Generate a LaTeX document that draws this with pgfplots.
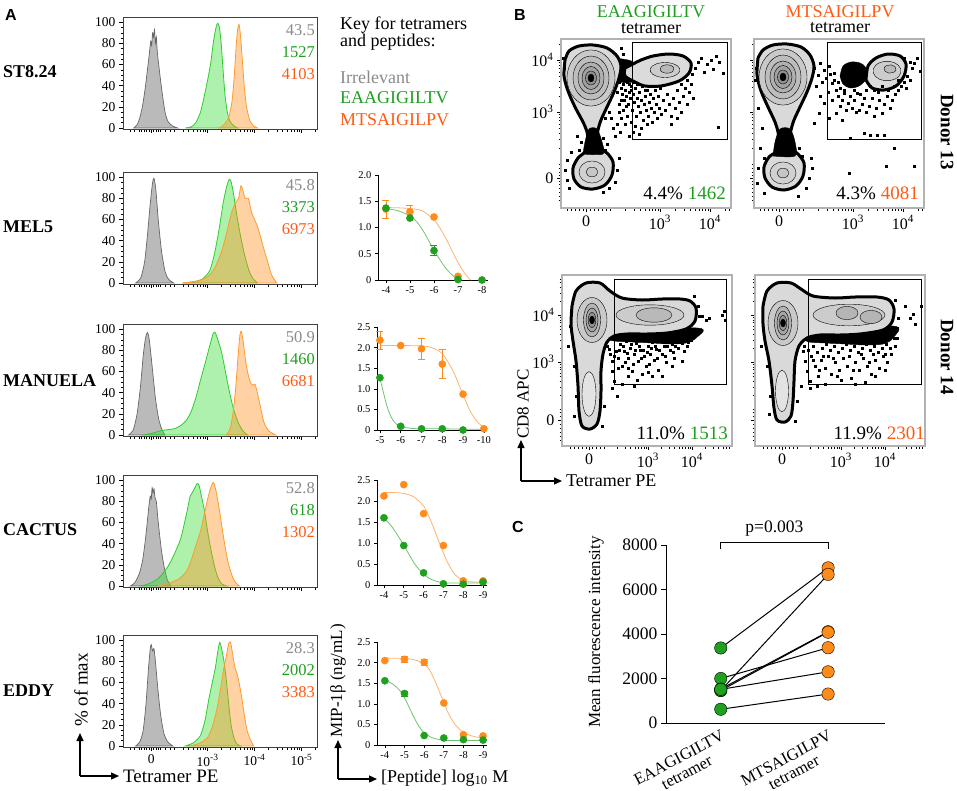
\documentclass[border=0pt]{standalone}
\usepackage{pgfplots}
\pgfplotsset{compat=1.18}
\usepackage{fontspec}
\setmainfont{Liberation Serif}
\setsansfont{Liberation Sans}
\usetikzlibrary{arrows.meta}
\newcommand\fs[1]{\fontsize{#1}{#1}\selectfont}

\definecolor{gfill}{HTML}{33DD33}
\definecolor{gline}{HTML}{2ECC2E}
\definecolor{ofill}{HTML}{FF8C1A}
\definecolor{oline}{HTML}{FF9A2E}
\definecolor{htext}{HTML}{8A8A8A}
\definecolor{gtext}{HTML}{1E9E1E}
\definecolor{otext}{HTML}{FF5A14}
\definecolor{gdot}{HTML}{1FA01F}
\definecolor{odot}{HTML}{FF8C1A}
\definecolor{gcurve}{HTML}{6FC36F}
\definecolor{ocurve}{HTML}{FFB36B}

\pgfplotsset{
  hist/.style={scale only axis, width=194pt, height=112pt,
    xmin=1.2, xmax=5.33, ymin=-1, ymax=105,
    axis line style={line width=0.8pt, black!75},
    tick align=outside, major tick length=4pt, minor tick length=2.5pt,
    tick style={black, line width=0.6pt},
    xtick pos=left, ytick pos=left,
    ytick={0,20,...,100}, minor y tick num=3,
    xtick={1.8,3,4,5}, xticklabels={},
    minor xtick={1.35,1.45,1.55,1.6,1.65,1.7,1.75,1.85,1.9,1.95,2.0,2.1,2.2,2.3,2.48,2.6,2.7,2.78,2.85,2.9,2.95,3.3,3.48,3.6,3.7,3.78,3.85,3.9,3.95,4.3,4.48,4.6,4.7,4.78,4.85,4.9,4.95,5.3},
    tick label style={font=\fs{13.5}},
    /pgf/number format/assume math mode=true, clip=false},
  gh/.style={draw=black!60, fill=black!45, fill opacity=0.6, line width=0.7pt, smooth, tension=0.4},
  gr/.style={draw=gline, fill=gfill, fill opacity=0.4, line width=0.8pt, smooth, tension=0.4},
  or/.style={draw=oline, fill=ofill, fill opacity=0.4, line width=0.8pt, smooth, tension=0.4},
  dose/.style={scale only axis, width=110pt, axis lines=left,
    axis line style={-, line width=0.8pt}, tick align=outside,
    major tick length=3pt, tick style={black, line width=0.6pt},
    ymin=0, clip=false, tick label style={font=\fs{10.5}}},
  ocv/.style={ocurve, line width=0.8pt, smooth, tension=0.5, no markers},
  gcv/.style={gcurve, line width=0.8pt, smooth, tension=0.5, no markers},
  odt/.style={odot, only marks, mark=*, mark size=3.6pt, mark options={fill=odot, draw=odot}},
  gdt/.style={gdot, only marks, mark=*, mark size=3.6pt, mark options={fill=gdot, draw=gdot}},
  ebar/.style={error bars/y dir=both, error bars/y explicit,
    error bars/error bar style={line width=0.8pt},
    error bars/error mark options={rotate=90, mark size=3.5pt, line width=0.8pt}},
  flow/.style={scale only axis, width=170pt, xmin=0, xmax=170, ymin=0,
    axis line style={black!30, line width=1.2pt},
    tick align=outside, major tick length=4pt, minor tick length=2.5pt,
    tick style={black, line width=0.6pt},
    xtick pos=left, ytick pos=left,
    tick label style={font=\fs{16}},
    xticklabels={0,10\textsuperscript{3},10\textsuperscript{4}}, yticklabels={}},
  f13/.style={height=169pt, ymax=169, xtick={25,99,149}, ytick={30,96,148},
    minor xtick={6,10,14,18,22,29,33,37,41,45,49,64,73,79,84,88,91,94,97,114,123,129,134,138,141,144,147,164,168},
    minor ytick={8,12,16,20,24,27,33,36,40,44,60,69,75,80,84,88,91,94,112,121,127,132,136,140,143,146,164}},
  f14/.style={height=171pt, ymax=171, xtick={27,86,130}, ytick={26,84,131},
    minor xtick={8,12,16,20,24,30,34,38,42,55,63,68,73,76,79,82,84,99,107,112,117,120,123,126,128,143,151,156,161,164,167},
    minor ytick={6,10,14,18,22,30,34,37,51,59,65,70,73,77,79,82,98,106,112,117,120,124,126,129,145,153,159,164,167}},
  dots/.style={only marks, mark=square*, mark size=1.05pt, black},
  blob/.style={draw=black, line width=3pt, smooth, tension=0.5},
  ring/.style={only marks, mark=*},
  wring/.style={only marks, mark=*, mark options={draw=white, line width=0.7pt}}
}

\begin{document}
\begin{tikzpicture}
\useasboundingbox (0pt,0pt) rectangle (957pt,-790pt);

% ---------------- A: histograms ----------------
\begin{axis}[hist, at={(123pt,-17pt)}, anchor=north west]
\addplot[gh] coordinates {(1.43,0)(1.50,3)(1.56,10)(1.62,22)(1.68,40)(1.72,55)(1.76,70)(1.79,82)(1.81,78)(1.83,90)(1.85,86)(1.87,93)(1.89,80)(1.91,86)(1.93,72)(1.96,60)(2.00,45)(2.05,28)(2.10,14)(2.16,6)(2.25,2)(2.36,0)} \closedcycle;
\addplot[gr] coordinates {(2.53,0)(2.65,1)(2.75,5)(2.85,15)(2.93,30)(3.00,45)(3.07,62)(3.12,80)(3.17,93)(3.21,99)(3.25,96)(3.29,80)(3.33,55)(3.37,32)(3.42,15)(3.48,6)(3.56,2)(3.64,0)} \closedcycle;
\addplot[or] coordinates {(3.25,0)(3.35,3)(3.45,10)(3.52,25)(3.57,50)(3.61,78)(3.64,93)(3.67,98)(3.70,88)(3.74,65)(3.78,40)(3.83,20)(3.90,7)(3.98,2)(4.06,0)} \closedcycle;
\end{axis}

\begin{axis}[hist, at={(123pt,-172pt)}, anchor=north west]
\addplot[gh] coordinates {(1.47,0)(1.58,5)(1.66,20)(1.72,45)(1.78,75)(1.83,95)(1.86,99)(1.90,88)(1.95,60)(2.02,30)(2.10,10)(2.18,3)(2.28,0)} \closedcycle;
\addplot[gr] coordinates {(2.47,0)(2.7,1)(2.9,4)(3.05,12)(3.15,28)(3.25,52)(3.33,75)(3.40,90)(3.46,98)(3.50,96)(3.55,85)(3.62,65)(3.70,45)(3.78,28)(3.88,12)(3.97,4)(4.06,0)} \closedcycle;
\addplot[or] coordinates {(2.47,0)(2.8,2)(3.0,6)(3.15,14)(3.30,30)(3.42,50)(3.52,68)(3.60,76)(3.66,80)(3.71,92)(3.75,88)(3.80,80)(3.87,80)(3.93,68)(3.98,62)(4.05,55)(4.12,45)(4.20,32)(4.28,20)(4.36,8)(4.47,0)} \closedcycle;
\end{axis}

\begin{axis}[hist, at={(123pt,-324pt)}, anchor=north west]
\addplot[gh] coordinates {(1.32,0)(1.42,5)(1.50,20)(1.57,45)(1.63,75)(1.68,92)(1.72,97)(1.76,90)(1.82,65)(1.89,35)(1.96,15)(2.03,5)(2.09,0)} \closedcycle;
\addplot[gr] coordinates {(1.65,0)(1.85,2)(2.0,4)(2.15,5)(2.3,6)(2.43,9)(2.55,14)(2.65,22)(2.75,35)(2.85,52)(2.95,68)(3.05,85)(3.12,96)(3.16,97)(3.22,90)(3.30,78)(3.38,60)(3.46,42)(3.55,25)(3.65,12)(3.75,4)(3.85,0)} \closedcycle;
\addplot[or] coordinates {(3.40,0)(3.48,6)(3.54,20)(3.60,45)(3.65,75)(3.69,95)(3.72,98)(3.76,88)(3.81,70)(3.86,58)(3.91,50)(3.96,47)(4.01,48)(4.06,40)(4.12,28)(4.20,12)(4.30,4)(4.45,0)} \closedcycle;
\end{axis}

\begin{axis}[hist, at={(123pt,-475pt)}, anchor=north west]
\addplot[gh] coordinates {(1.36,0)(1.45,3)(1.55,12)(1.62,25)(1.68,45)(1.72,62)(1.75,75)(1.78,85)(1.80,82)(1.82,93)(1.84,88)(1.86,92)(1.88,84)(1.91,80)(1.94,65)(1.98,48)(2.03,30)(2.09,15)(2.15,5)(2.22,0)} \closedcycle;
\addplot[gr] coordinates {(1.60,0)(1.80,3)(1.95,7)(2.05,12)(2.15,18)(2.25,26)(2.35,36)(2.43,45)(2.50,58)(2.57,72)(2.63,85)(2.67,88)(2.72,92)(2.78,97)(2.82,95)(2.87,85)(2.93,72)(3.00,52)(3.07,35)(3.14,20)(3.22,8)(3.30,2)(3.40,0)} \closedcycle;
\addplot[or] coordinates {(1.95,0)(2.2,3)(2.4,7)(2.55,14)(2.65,24)(2.75,38)(2.85,52)(2.93,68)(3.00,82)(3.06,92)(3.12,98)(3.17,92)(3.23,78)(3.30,58)(3.37,38)(3.44,22)(3.52,10)(3.60,3)(3.68,0)} \closedcycle;
\end{axis}

\begin{axis}[hist, at={(123pt,-635pt)}, anchor=north west,
  xticklabels={0,10\textsuperscript{-3},10\textsuperscript{-4},10\textsuperscript{-5}}]
\addplot[gh] coordinates {(1.47,0)(1.56,4)(1.63,15)(1.69,40)(1.74,72)(1.78,92)(1.80,96)(1.83,90)(1.86,92)(1.89,80)(1.94,55)(2.00,30)(2.07,12)(2.15,4)(2.26,0)} \closedcycle;
\addplot[gr] coordinates {(2.53,0)(2.70,3)(2.85,10)(2.95,25)(3.03,45)(3.10,60)(3.17,75)(3.22,90)(3.26,98)(3.30,92)(3.35,80)(3.40,62)(3.45,40)(3.50,20)(3.56,8)(3.62,2)(3.70,0)} \closedcycle;
\addplot[or] coordinates {(2.64,0)(2.85,3)(3.00,8)(3.10,18)(3.20,35)(3.28,55)(3.34,72)(3.40,85)(3.45,97)(3.49,98)(3.53,88)(3.58,75)(3.63,68)(3.68,58)(3.73,45)(3.78,30)(3.84,15)(3.91,6)(3.98,0)} \closedcycle;
\end{axis}

% ---------------- A: dose response ----------------
\begin{axis}[dose, at={(378pt,-280pt)}, anchor=south west, height=105pt,
  xmin=3.67, xmax=8.25, ymax=2, xtick={4,5,6,7,8}, xticklabels={-4,-5,-6,-7,-8},
  ytick={0,0.5,1,1.5,2}, yticklabels={0,0.5,1.0,1.5,2.0}]
\addplot[ocv] coordinates {(4,1.38)(4.5,1.375)(5,1.36)(5.5,1.32)(6,1.15)(6.3,0.95)(6.6,0.7)(6.9,0.42)(7.2,0.18)(7.45,0.03)(7.55,0)};
\addplot[gcv] coordinates {(4,1.36)(4.5,1.32)(5,1.22)(5.3,1.1)(5.6,0.9)(5.9,0.65)(6.2,0.42)(6.5,0.22)(6.8,0.08)(7.1,0.0)};
\addplot[odt, ebar] coordinates {(4,1.35) +- (0,0.17) (5,1.30) +- (0,0.13)};
\addplot[odt] coordinates {(6,1.20)(7,0.07)};
\addplot[gdt, ebar] coordinates {(6,0.56) +- (0,0.09)};
\addplot[gdt] coordinates {(4,1.37)(5,1.18)(7,0.01)(8,0)};
\end{axis}

\begin{axis}[dose, at={(377pt,-430pt)}, anchor=south west, height=103pt,
  xmin=4.86, xmax=10.15, ymax=2.5, xtick={5,6,7,8,9,10}, xticklabels={-5,-6,-7,-8,-9,-10},
  ytick={0,0.5,1,1.5,2,2.5}, yticklabels={0,0.5,1.0,1.5,2.0,2.5}]
\addplot[ocv] coordinates {(5,2.05)(6,2.05)(7,2.04)(7.5,2.0)(8,1.85)(8.5,1.45)(8.8,1.1)(9,0.86)(9.3,0.5)(9.6,0.25)(9.9,0.1)(10.15,0.03)};
\addplot[gcv] coordinates {(5,1.25)(5.15,0.95)(5.3,0.65)(5.45,0.42)(5.6,0.26)(5.8,0.14)(6,0.08)(6.5,0.04)(7,0.03)(8,0.03)(9,0.02)(10.1,0.02)};
\addplot[odt, ebar] coordinates {(5,2.18) +- (0,0.22) (7,1.97) +- (0,0.25) (8,1.60) +- (0,0.35)};
\addplot[odt] coordinates {(6,2.05)(9,0.87)(10,0.03)};
\addplot[gdt] coordinates {(5,1.27)(6,0.09)(7,0.03)(8,0.03)(9,0.0)};
\end{axis}

\begin{axis}[dose, at={(377pt,-585pt)}, anchor=south west, height=105pt,
  xmin=3.65, xmax=9.2, ymax=2.5, xtick={4,5,6,7,8,9}, xticklabels={-4,-5,-6,-7,-8,-9},
  ytick={0,0.5,1,1.5,2,2.5}, yticklabels={0,0.5,1.0,1.5,2.0,2.5}]
\addplot[ocv] coordinates {(4,2.2)(4.5,2.2)(5,2.18)(5.5,2.1)(6,1.88)(6.3,1.6)(6.6,1.25)(6.9,0.88)(7.2,0.55)(7.5,0.3)(7.8,0.16)(8.2,0.09)(8.6,0.07)(9,0.06)};
\addplot[gcv] coordinates {(4,1.58)(4.3,1.45)(4.6,1.25)(5,0.95)(5.3,0.7)(5.6,0.47)(6,0.26)(6.4,0.13)(6.8,0.07)(7.2,0.05)(8,0.05)(9,0.05)};
\addplot[odt] coordinates {(4,2.12)(5,2.39)(6,1.70)(7,0.94)(8,0.10)(9,0.10)};
\addplot[gdt] coordinates {(4,1.60)(5,0.94)(6,0.29)(7,0.03)(8,0.02)(9,0.07)};
\end{axis}

\begin{axis}[dose, at={(377pt,-745pt)}, anchor=south west, height=103pt,
  xmin=3.6, xmax=9.2, ymax=2.5, xtick={4,5,6,7,8,9}, xticklabels={-4,-5,-6,-7,-8,-9},
  ytick={0,0.5,1,1.5,2,2.5}, yticklabels={0,0.5,1.0,1.5,2.0,2.5}]
\addplot[ocv] coordinates {(4,2.11)(5,2.1)(5.5,2.07)(6,1.97)(6.3,1.8)(6.6,1.5)(6.9,1.15)(7.2,0.8)(7.5,0.55)(7.8,0.38)(8.2,0.26)(8.6,0.2)(9,0.17)};
\addplot[gcv] coordinates {(4,1.57)(4.4,1.48)(4.8,1.3)(5.1,1.05)(5.4,0.75)(5.7,0.48)(6,0.3)(6.4,0.18)(6.8,0.13)(7.3,0.11)(9,0.11)};
\addplot[odt, ebar] coordinates {(5,2.08) +- (0,0.07) (6,2.01) +- (0,0.07)};
\addplot[odt] coordinates {(4,2.05)(7,1.02)(8,0.25)(9,0.22)};
\addplot[gdt, ebar] coordinates {(5,1.25) +- (0,0.06)};
\addplot[gdt] coordinates {(4,1.56)(6,0.23)(7,0.17)(8,0.13)(9,0.12)};
\end{axis}

% ---------------- B: flow plots, donor 13 ----------------
\begin{axis}[flow, f13, at={(561pt,-208pt)}, anchor=south west,
  yticklabels={0,10\textsuperscript{3},10\textsuperscript{4}}]
\addplot[dots] coordinates {(58,126)(60,120)(61,114)(62,124)(63,108)(64,118)(65,112)(66,126)(67,104)(68,116)(69,110)(70,122)(71,98)(72,114)(73,106)(74,120)(75,92)(76,110)(77,102)(78,116)(79,96)(80,108)(81,122)(82,88)(83,104)(84,112)(85,98)(86,118)(87,92)(88,106)(89,114)(90,100)(91,86)(92,110)(93,96)(94,118)(95,104)(96,90)(97,112)(98,100)(99,120)(100,94)(102,108)(104,98)(106,114)(108,104)(110,92)(112,110)(114,100)(116,118)(118,106)(120,96)(122,112)(124,120)(126,104)(128,116)(130,124)(132,110)(62,98)(66,92)(70,86)(74,82)(80,80)(86,84)(58,104)(60,90)(64,84)(68,72)(72,76)(78,74)(56,84)(59,76)(110,84)(116,90)(120,124)(126,128)(131,134)(134,140)(137,146)(140,150)(143,136)(146,144)(150,148)(152,139)(155,152)(158,146)(162,135)(157,81)(48,96)(50,90)(52,80)(54,72)(44,90)(42,70)(46,64)(20,66)(16,72)(18,58)(44,58)(42,16)(48,20)(54,26)(56,38)(58,50)(8,20)(6,28)(4,38)(6,48)(10,56)(3,140)(2,150)(62,154)(63,146)(60,160)(61,128)(64,130)(68,124)(72,126)(76,124)(70,118)(65,102)(60,108)(84,118)(90,122)(56,116)(58,96)};
\addplot[draw=black, fill=black, smooth] coordinates {(50,150)(72,146)(74,127)(52,128)(50,150)};
\addplot[blob, fill=gray!28] coordinates {(64,140)(72,144)(80,148)(92,152)(108,154)(122,152)(130,145)(128,135)(118,127)(100,122)(84,122)(74,126)(64,132)(64,140)};
\addplot[ring, mark size=15pt, mark options={fill=gray!40, draw=none, yscale=0.5, rotate=12}] coordinates {(104,138)};
\addplot[ring, mark size=7pt, mark options={fill=gray!55, draw=none, yscale=0.6, rotate=12}] coordinates {(106,139)};
\addplot[blob, fill=gray!30] coordinates {(4,148)(8,157)(18,162)(32,163)(46,160)(56,152)(60,142)(58,130)(53,116)(46,101)(40,88)(37,78)(36,68)(38,60)(46,55)(52,46)(51,33)(44,23)(32,19)(20,21)(13,29)(12,40)(17,50)(25,57)(27,66)(26,76)(22,86)(14,101)(7,117)(3,132)(4,148)};
\addplot[draw=black, fill=black, smooth, tension=0.5] coordinates {(22,54)(42,54)(41,66)(36,79)(28,79)(24,66)(22,54)};
\addplot[ring, mark size=24pt, mark options={fill=gray!42, draw=none, yscale=1.17}] coordinates {(30,130)};
\addplot[ring, mark size=18pt, mark options={fill=gray!52, draw=none, yscale=1.22}] coordinates {(30,130)};
\addplot[wring, mark size=13pt, mark options={fill=gray!62, yscale=1.23}] coordinates {(30,130)};
\addplot[wring, mark size=9pt, mark options={fill=gray!74, yscale=1.28}] coordinates {(30,130)};
\addplot[wring, mark size=5.5pt, mark options={fill=gray!86, yscale=1.27}] coordinates {(30,130)};
\addplot[ring, mark size=3pt, mark options={fill=black, draw=none, yscale=1.33}] coordinates {(30,130)};
\addplot[ring, mark size=13pt, mark options={fill=gray!36, draw=none, yscale=0.85}] coordinates {(31,36)};
\addplot[ring, mark size=6pt, mark options={fill=gray!45, draw=none, yscale=0.8}] coordinates {(31,36)};
\addplot[black, line width=0.8pt] coordinates {(71,69)(166,69)(166,166)(71,166)(71,69)};
\end{axis}

\begin{axis}[flow, f13, at={(754pt,-208pt)}, anchor=south west]
\addplot[dots] coordinates {(60,140)(64,133)(66,145)(70,138)(72,130)(75,142)(78,125)(80,135)(82,118)(84,112)(88,108)(90,115)(94,105)(96,112)(98,100)(100,108)(103,115)(105,98)(108,104)(110,110)(112,96)(115,102)(118,110)(120,92)(122,100)(125,108)(128,95)(130,104)(133,112)(136,100)(138,108)(141,114)(144,118)(147,122)(150,126)(153,132)(156,128)(158,140)(160,145)(163,150)(166,137)(75,90)(82,95)(88,88)(110,75)(116,73)(123,73)(130,73)(140,60)(96,70)(60,85)(65,95)(70,105)(55,30)(57,50)(95,35)(132,42)(160,42)(45,60)(48,52)(2,140)(1,128)(4,100)(8,80)(6,60)(10,50)(4,40)(3,25)(10,15)(52,20)(58,40)(44,12)(86,120)(90,118)(92,124)(100,118)(106,114)(112,118)(116,122)(84,126)(80,128)(76,134)(68,126)(62,122)(66,112)(74,116)(78,108)(86,102)(92,98)(102,96)(120,118)(124,116)(128,122)(134,118)(140,122)(144,128)(152,120)(156,146)(150,150)};
\addplot[draw=black, fill=black, smooth, tension=0.5] coordinates {(86,132)(89,142)(97,146)(106,145)(112,140)(112,129)(105,122)(96,120)(89,124)(86,132)};
\addplot[blob, fill=gray!28] coordinates {(112,128)(114,142)(122,150)(134,154)(146,152)(152,144)(150,132)(142,122)(130,118)(118,120)(112,128)};
\addplot[ring, mark size=14pt, mark options={fill=gray!40, draw=none, yscale=0.7, rotate=35}] coordinates {(133,137)};
\addplot[ring, mark size=6pt, mark options={fill=gray!55, draw=none, yscale=0.7, rotate=35}] coordinates {(136,139)};
\addplot[blob, fill=gray!30] coordinates {(4,150)(9,158)(19,163)(33,164)(47,161)(56,153)(60,142)(58,130)(53,116)(46,101)(40,88)(37,78)(35,68)(36,60)(44,54)(50,45)(49,32)(42,22)(30,18)(18,21)(11,30)(10,41)(15,51)(23,57)(25,66)(24,76)(21,86)(14,101)(7,117)(3,133)(4,150)};
\addplot[draw=black, fill=black, smooth, tension=0.5] coordinates {(19,52)(41,52)(41,66)(36,79)(26,79)(21,66)(19,52)};
\addplot[ring, mark size=24pt, mark options={fill=gray!42, draw=none, yscale=1.17}] coordinates {(29,131)};
\addplot[ring, mark size=18pt, mark options={fill=gray!52, draw=none, yscale=1.22}] coordinates {(29,131)};
\addplot[wring, mark size=13pt, mark options={fill=gray!62, yscale=1.23}] coordinates {(29,131)};
\addplot[wring, mark size=9pt, mark options={fill=gray!74, yscale=1.28}] coordinates {(29,131)};
\addplot[wring, mark size=5.5pt, mark options={fill=gray!86, yscale=1.27}] coordinates {(29,131)};
\addplot[ring, mark size=3pt, mark options={fill=black, draw=none, yscale=1.33}] coordinates {(29,131)};
\addplot[ring, mark size=13pt, mark options={fill=gray!36, draw=none, yscale=0.85}] coordinates {(29,35)};
\addplot[ring, mark size=6pt, mark options={fill=gray!45, draw=none, yscale=0.8}] coordinates {(29,35)};
\addplot[black, line width=0.8pt] coordinates {(73,69)(167,69)(167,166)(73,166)(73,69)};
\end{axis}

% ---------------- B: flow plots, donor 14 ----------------
\begin{axis}[flow, f14, at={(562pt,-446pt)}, anchor=south west,
  yticklabels={0,10\textsuperscript{3},10\textsuperscript{4}}]
\addplot[dots] coordinates {(45,100)(48,92)(50,85)(50,75)(52,65)(54,95)(56,88)(58,102)(60,80)(62,95)(64,105)(66,88)(68,98)(70,75)(72,92)(74,103)(76,85)(78,96)(80,106)(82,90)(84,80)(86,100)(88,92)(90,104)(92,86)(94,97)(96,76)(98,105)(100,92)(102,100)(104,84)(106,107)(108,96)(110,102)(112,88)(114,106)(116,98)(118,108)(120,103)(122,95)(124,109)(126,104)(128,110)(60,62)(66,70)(72,60)(80,72)(90,70)(100,70)(110,80)(120,85)(50,58)(55,50)(140,130)(144,126)(147,128)(160,131)(162,135)(163,126)(136,140)(137,130)(132,150)(8,120)(6,100)(12,80)(14,50)(12,30)(40,20)(42,40)(47,97)(52,90)(57,96)(61,100)(65,93)(69,102)(73,96)(77,100)(81,96)(85,94)(89,98)(93,100)(97,96)(101,104)(105,100)(109,106)(113,100)(117,104)(121,108)(125,100)(129,106)(132,112)(63,84)(71,82)(79,88)(87,82)(95,88)(103,90)(111,94)(56,78)(66,78)(75,66)(86,74)};
\addplot[draw=black, fill=black, smooth, tension=0.5] coordinates {(44,114)(136,118)(134,108)(124,103)(108,102)(90,103)(70,104)(52,105)(44,108)(44,114)};
\addplot[blob, fill=gray!30] coordinates {(10,140)(14,155)(24,163)(38,163)(48,155)(60,148)(80,146)(100,147)(118,147)(128,145)(134,138)(133,125)(124,117)(105,113)(85,112)(65,112)(52,110)(45,104)(41,92)(39,75)(39,55)(38,35)(35,22)(28,17)(20,20)(17,35)(16,60)(14,85)(11,105)(9,122)(10,140)};
\addplot[ring, mark size=34pt, mark options={fill=gray!40, draw=none, yscale=0.3}] coordinates {(88,131)};
\addplot[ring, mark size=18pt, mark options={fill=gray!55, draw=none, yscale=0.4}] coordinates {(92,131)};
\addplot[ring, mark size=7pt, mark options={fill=gray!22, draw=none, yscale=3.2}] coordinates {(27,52)};
\addplot[ring, mark size=15pt, mark options={fill=gray!42, draw=none, yscale=1.5}] coordinates {(30,126)};
\addplot[wring, mark size=8.5pt, mark options={fill=gray!58, yscale=2.0}] coordinates {(30,126)};
\addplot[wring, mark size=6pt, mark options={fill=gray!70, yscale=2.0}] coordinates {(30,126)};
\addplot[wring, mark size=3.8pt, mark options={fill=gray!84, yscale=2.0}] coordinates {(30,126)};
\addplot[ring, mark size=2.5pt, mark options={fill=black, draw=none, yscale=1.6}] coordinates {(30,126)};
\addplot[black, line width=0.8pt] coordinates {(52,62)(164,62)(164,167)(52,167)(52,62)};
\end{axis}

\begin{axis}[flow, f14, at={(755pt,-446pt)}, anchor=south west]
\addplot[dots] coordinates {(48,95)(50,85)(52,75)(55,65)(56,90)(60,80)(63,70)(66,86)(70,78)(73,90)(76,72)(80,84)(84,76)(88,88)(92,80)(96,68)(100,84)(104,76)(108,88)(112,80)(116,72)(120,86)(124,78)(128,90)(132,84)(136,92)(140,100)(142,108)(55,58)(62,60)(70,62)(86,66)(100,62)(110,64)(120,70)(130,76)(150,140)(155,128)(158,132)(166,140)(160,122)(46,60)(142,118)(143,128)(140,146)(8,118)(6,100)(12,80)(15,50)(14,32)(40,25)(42,45)(49,100)(53,96)(58,100)(62,94)(67,98)(71,102)(75,96)(79,100)(83,94)(87,98)(91,102)(95,96)(99,100)(103,94)(107,98)(111,102)(115,96)(119,100)(123,94)(127,98)(131,102)(135,98)(139,108)(58,86)(68,90)(78,88)(94,90)(106,92)(118,92)(130,92)(64,76)(82,70)(98,76)(114,84)};
\addplot[draw=black, fill=black, smooth, tension=0.5] coordinates {(46,114)(138,120)(138,108)(128,102)(110,101)(90,102)(70,103)(54,104)(46,108)(46,114)};
\addplot[blob, fill=gray!30] coordinates {(8,140)(12,155)(22,163)(36,163)(46,157)(58,150)(80,148)(100,149)(122,149)(134,146)(139,137)(137,124)(128,116)(105,112)(85,111)(65,111)(52,108)(44,100)(40,85)(39,65)(38,45)(36,30)(30,24)(22,26)(19,38)(17,60)(14,85)(10,105)(8,122)(8,140)};
\addplot[ring, mark size=36pt, mark options={fill=gray!40, draw=none, yscale=0.3}] coordinates {(94,131)};
\addplot[ring, mark size=11pt, mark options={fill=gray!58, draw=none, yscale=0.6}] coordinates {(92,133)};
\addplot[ring, mark size=11pt, mark options={fill=gray!58, draw=none, yscale=0.6}] coordinates {(116,129)};
\addplot[ring, mark size=6.5pt, mark options={fill=gray!22, draw=none, yscale=3.2}] coordinates {(27,55)};
\addplot[ring, mark size=15pt, mark options={fill=gray!42, draw=none, yscale=1.5}] coordinates {(28,123)};
\addplot[wring, mark size=8.5pt, mark options={fill=gray!58, yscale=2.0}] coordinates {(28,123)};
\addplot[wring, mark size=6pt, mark options={fill=gray!70, yscale=2.0}] coordinates {(28,123)};
\addplot[wring, mark size=3.8pt, mark options={fill=gray!84, yscale=2.0}] coordinates {(28,123)};
\addplot[ring, mark size=2.5pt, mark options={fill=black, draw=none, yscale=1.6}] coordinates {(28,123)};
\addplot[black, line width=0.8pt] coordinates {(53,62)(166,62)(166,167)(53,167)(53,62)};
\end{axis}

% ---------------- C: paired MFI ----------------
\begin{axis}[scale only axis, width=219pt, height=178pt, at={(666pt,-723pt)}, anchor=south west,
  axis lines=left, axis line style={-, line width=0.9pt},
  xmin=-0.51, xmax=1.53, ymin=0, ymax=8000,
  ytick={0,2000,4000,6000,8000}, yticklabels={0,2000,4000,6000,8000},
  xtick={0,1}, xticklabels={{\fs{16.5}EAAGIGILTV\\\fs{16.5}tetramer},{\fs{16.5}MTSAIGILPV\\\fs{16.5}tetramer}},
  xticklabel style={rotate=28, anchor=north east, align=center, font=\fs{16.5}, inner sep=1pt},
  yticklabel style={font=\fs{17.5}},
  x tick style={draw=none}, tick align=outside, major tick length=5pt,
  y tick style={black, line width=0.8pt}, clip=false]
\addplot[black, line width=0.9pt] coordinates {(0,7800)(0,8100)(1,8100)(1,7800)};
\addplot[black, line width=1pt] coordinates {(0,3373)(1,6973)};
\addplot[black, line width=1pt] coordinates {(0,1460)(1,6681)};
\addplot[black, line width=1pt] coordinates {(0,618)(1,1302)};
\addplot[black, line width=1pt] coordinates {(0,2002)(1,3383)};
\addplot[black, line width=1pt] coordinates {(0,1527)(1,4103)};
\addplot[black, line width=1pt] coordinates {(0,1462)(1,4081)};
\addplot[black, line width=1pt] coordinates {(0,1513)(1,2301)};
\addplot[only marks, mark=*, mark size=6.2pt, mark options={fill=gdot, draw=none}] coordinates {(0,3373)(0,1460)(0,618)(0,2002)(0,1527)(0,1462)(0,1513)};
\addplot[only marks, mark=*, mark size=6.2pt, mark options={fill=odot, draw=none}] coordinates {(1,6973)(1,6681)(1,1302)(1,3383)(1,4103)(1,4081)(1,2301)};
\node[font=\fs{17.5}, anchor=base] at (axis cs:0.5,8580) {p=0.003};
\end{axis}

% ---------------- text ----------------
\begin{scope}[x=1pt, y=-1pt]
\node[font=\sffamily\bfseries\fs{16}] at (11,15) {A};
\node[font=\sffamily\bfseries\fs{16}] at (520,15) {B};
\node[font=\sffamily\bfseries\fs{16}] at (518,527) {C};

\node[font=\bfseries\fs{18}, anchor=west, inner sep=0] at (3,72) {ST8.24};
\node[font=\bfseries\fs{18}, anchor=west, inner sep=0] at (3,227) {MEL5};
\node[font=\bfseries\fs{18}, anchor=west, inner sep=0] at (3,381) {MANUELA};
\node[font=\bfseries\fs{18}, anchor=west, inner sep=0] at (3,530) {CACTUS};
\node[font=\bfseries\fs{18}, anchor=west, inner sep=0] at (3,691) {EDDY};

\foreach \t/\a/\b/\c in {17/43.5/1527/4103, 172/45.8/3373/6973, 324/50.9/1460/6681, 475/52.8/618/1302, 635/28.3/2002/3383}{
  \node[font=\fs{16.5}, anchor=east, inner sep=0, text=htext] at (315,\t+13) {\a};
  \node[font=\fs{16.5}, anchor=east, inner sep=0, text=gtext] at (315,\t+35) {\b};
  \node[font=\fs{16.5}, anchor=east, inner sep=0, text=otext] at (315,\t+57) {\c};
}

\node[font=\fs{18}, anchor=west, inner sep=0] at (340,25) {Key for tetramers};
\node[font=\fs{18}, anchor=west, inner sep=0] at (340,42) {and peptides:};
\node[font=\fs{18}, anchor=west, inner sep=0, text=htext] at (340,77) {Irrelevant};
\node[font=\fs{18}, anchor=west, inner sep=0, text=gtext] at (340,98) {EAAGIGILTV};
\node[font=\fs{18}, anchor=west, inner sep=0, text=otext] at (340,120) {MTSAIGILPV};

\node[font=\fs{19}, rotate=90, inner sep=0] at (81,690) {\% of max};
\draw[line width=1.2pt, -{Triangle[length=8pt,width=7pt]}] (80,776) -- (80,733);
\draw[line width=1.2pt, -{Triangle[length=8pt,width=7pt]}] (80,776) -- (119,776);
\node[font=\fs{19}, anchor=west, inner sep=0] at (123,776) {Tetramer PE};

\node[font=\fs{17}, rotate=90, inner sep=0] at (338,681) {MIP-1β (ng/mL)};
\draw[line width=1.2pt, -{Triangle[length=8pt,width=7pt]}] (338,779) -- (338,740);
\draw[line width=1.2pt, -{Triangle[length=8pt,width=7pt]}] (338,779) -- (377,779);
\node[font=\fs{18}, anchor=west, inner sep=0] at (381,778) {[Peptide] log\textsubscript{10} M};

\node[font=\fs{18}, text=gtext] at (651,12) {EAAGIGILTV};
\node[font=\fs{18}] at (651,29) {tetramer};
\node[font=\fs{18}, text=otext] at (840,12) {MTSAIGILPV};
\node[font=\fs{18}] at (840,28) {tetramer};
\node[font=\bfseries\fs{19}, rotate=-90] at (947,132) {Donor 13};
\node[font=\bfseries\fs{19}, rotate=-90] at (947,357) {Donor 14};

\node[font=\fs{19}, anchor=base east, inner sep=0] at (726,199) {4.4\% \textcolor{gtext}{1462}};
\node[font=\fs{19}, anchor=base east, inner sep=0] at (919,199) {4.3\% \textcolor{otext}{4081}};
\node[font=\fs{19}, anchor=base east, inner sep=0] at (728,439) {11.0\% \textcolor{gtext}{1513}};
\node[font=\fs{19}, anchor=base east, inner sep=0] at (925,439) {11.9\% \textcolor{otext}{2301}};

\node[font=\fs{17}, rotate=90, inner sep=0] at (523,404) {CD8 APC};
\draw[line width=1.2pt, -{Triangle[length=8pt,width=7pt]}] (521,481) -- (521,440);
\draw[line width=1.2pt, -{Triangle[length=8pt,width=7pt]}] (521,481) -- (562,481);
\node[font=\fs{18}, anchor=west, inner sep=0] at (566,481) {Tetramer PE};

\node[font=\fs{17}, rotate=90, inner sep=0] at (596,632) {Mean fluorescence intensity};
\end{scope}
\end{tikzpicture}
\end{document}
